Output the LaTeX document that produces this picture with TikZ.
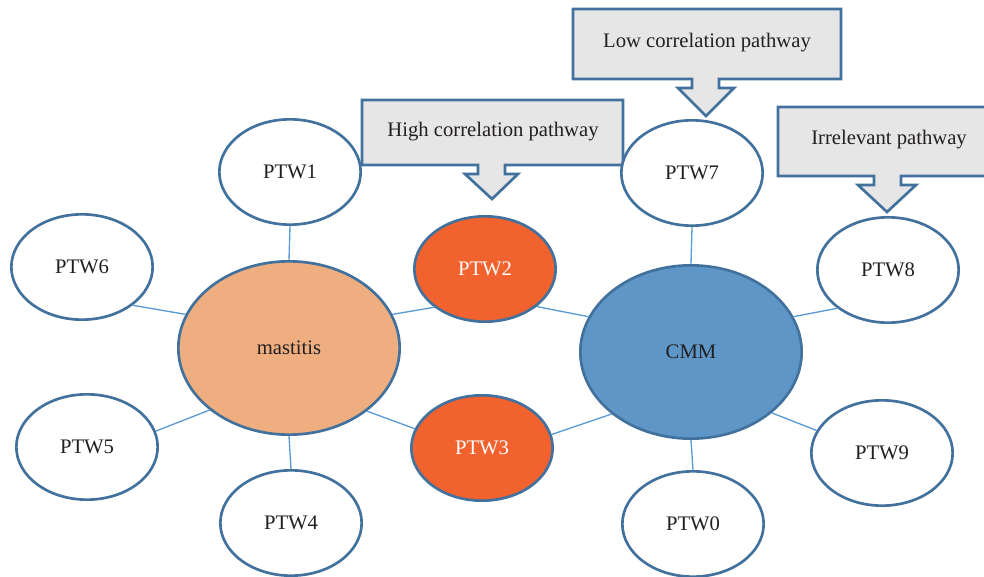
\documentclass[tikz,border=0pt]{standalone}
\usepackage{fontspec}
\setmainfont{Liberation Serif}
\usetikzlibrary{shapes.geometric}

\definecolor{rim}{HTML}{41719C}
\definecolor{link}{HTML}{5B9BD5}
\definecolor{peach}{HTML}{EEAE80}
\definecolor{flame}{HTML}{F1622E}
\definecolor{steel}{HTML}{5E96C8}
\definecolor{shade}{HTML}{E7E6E6}
\definecolor{ink}{HTML}{231F20}

\begin{document}
\begin{tikzpicture}
    [
        x=0.75pt, y=-0.75pt,
        font=\fontsize{15.5}{18}\selectfont, text=ink,
        plain_node/.style={ellipse, draw=rim, fill=white, line width=2pt, inner sep=0pt, minimum width=106pt, minimum height=79pt},
        orange_node/.style={plain_node, fill=flame, text=white},
        peach_node/.style={ellipse, draw=rim, fill=peach, line width=2pt, inner sep=0pt, minimum width=166pt, minimum height=130pt},
        blue_node/.style={peach_node, fill=steel},
        callout/.style={draw=rim, fill=shade, line width=2pt, line join=miter},
    ]
        \clip (0,0) rectangle (984,577) ;
        \useasboundingbox (0,0) rectangle (984,577) ;

        % callouts
        \draw[callout] (362,100) -- (623,100) -- (623,165) -- (505,165) -- (505,174) -- (518,174) -- (492,199) -- (465,174) -- (478,174) -- (478,165) -- (362,165) -- cycle ;
        \draw[callout] (573,9) -- (841,9) -- (841,79) -- (719,79) -- (719,88) -- (734,88) -- (706,116) -- (678,88) -- (692,88) -- (692,79) -- (573,79) -- cycle ;
        \draw[callout] (778,107) -- (1000,107) -- (1000,176) -- (901,176) -- (901,185) -- (916,185) -- (887,212) -- (858,185) -- (874,185) -- (874,176) -- (778,176) -- cycle ;
        \node (high) at (493,132) {High correlation pathway} ;
        \node (low) at (707,43) {Low correlation pathway} ;
        \node (irr) at (889,140) {Irrelevant pathway} ;

        % pathways
        \node[peach_node] (mastitis) at (289,348) {mastitis} ;
        \node[blue_node] (cmm) at (691,352) {CMM} ;
        \node[plain_node] (ptw1) at (290,172) {PTW1} ;
        \node[orange_node] (ptw2) at (485,269) {PTW2} ;
        \node[orange_node] (ptw3) at (482,448) {PTW3} ;
        \node[plain_node] (ptw4) at (291,523) {PTW4} ;
        \node[plain_node] (ptw5) at (87,447) {PTW5} ;
        \node[plain_node] (ptw6) at (82,267) {PTW6} ;
        \node[plain_node] (ptw7) at (692,173) {PTW7} ;
        \node[plain_node] (ptw8) at (888,270) {PTW8} ;
        \node[plain_node] (ptw9) at (882,453) {PTW9} ;
        \node[plain_node] (ptw0) at (693,524) {PTW0} ;

        \draw[line width=1pt, color=link] (ptw1.south) -- (mastitis.north) ;
        \draw[line width=1pt, color=link] (ptw6.-37) -- (mastitis.162) ;
        \draw[line width=1pt, color=link] (ptw5.13) -- (mastitis.-142) ;
        \draw[line width=1pt, color=link] (ptw4.north) -- (mastitis.south) ;
        \draw[line width=1pt, color=link] (ptw2.-143) -- (mastitis.18) ;
        \draw[line width=1pt, color=link] (ptw3.164) -- (mastitis.-39) ;
        \draw[line width=1pt, color=link] (ptw2.-36) -- (cmm.161) ;
        \draw[line width=1pt, color=link] (ptw3.11) -- (cmm.-142) ;
        \draw[line width=1pt, color=link] (ptw7.south) -- (cmm.north) ;
        \draw[line width=1pt, color=link] (ptw8.-143) -- (cmm.19) ;
        \draw[line width=1pt, color=link] (ptw9.161) -- (cmm.-37) ;
        \draw[line width=1pt, color=link] (ptw0.north) -- (cmm.south) ;
    \end{tikzpicture}
\end{document}
